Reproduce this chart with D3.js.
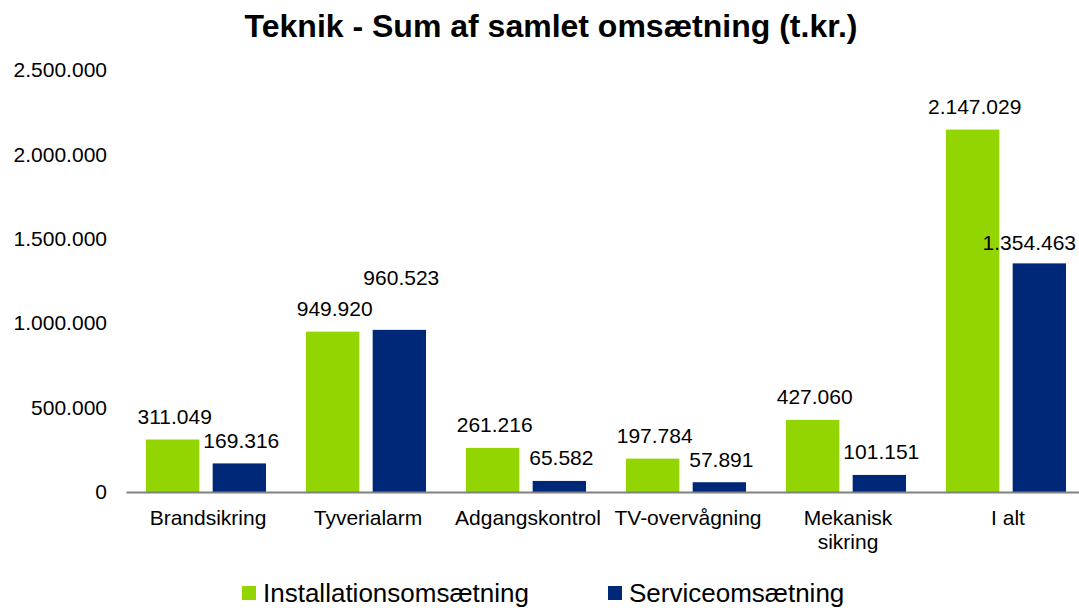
<!DOCTYPE html>
<html>
<head>
<meta charset="utf-8">
<script src="https://cdn.jsdelivr.net/npm/d3@7"></script>
<style>
  html, body { margin: 0; padding: 0; background: #fff; }
  svg { display: block; font-family: "Liberation Sans", Arial, sans-serif; }
</style>
</head>
<body>
<svg id="chart" width="1079" height="608"></svg>
<script>
// ---- Data ----
const title = "Teknik - Sum af samlet omsætning (t.kr.)";
const categories = ["Brandsikring", "Tyverialarm", "Adgangskontrol", "TV-overvågning", "Mekanisk sikring", "I alt"];
const seriesNames = ["Installationsomsætning", "Serviceomsætning"];
const installation = [311049, 949920, 261216, 197784, 427060, 2147029];
const service = [169316, 960523, 65582, 57891, 101151, 1354463];
const yTicks = [0, 500000, 1000000, 1500000, 2000000, 2500000];

// ---- Styles ----
const colors = ["#93D500", "#002878"];

(function () {
const svg = d3.select("#chart");
const plotLeft = 126, plotRight = 1086, plotTop = 70, plotBottom = 492;

const locale = d3.formatLocale({ decimal: ",", thousands: ".", grouping: [3], currency: ["", " kr"] });
const fmt = locale.format(",");

const x = d3.scaleBand().domain(categories).range([plotLeft, plotRight]).paddingInner(0.25).paddingOuter(0.125);
const xs = d3.scaleBand().domain(seriesNames).range([0, x.bandwidth()]).paddingInner(0.2);
const y = d3.scaleLinear().domain([0, 2500000]).range([plotBottom, plotTop]);

// Title
svg.append("text")
  .attr("x", 551).attr("y", 37)
  .attr("text-anchor", "middle")
  .style("font-size", "32px").style("font-weight", "bold").attr("fill", "#000")
  .text(title);

// Y axis (labels only)
const yAxis = d3.axisLeft(y).tickValues(yTicks).tickFormat(fmt).tickSize(0).tickPadding(19);
const gy = svg.append("g").attr("transform", `translate(${plotLeft},0)`).call(yAxis);
gy.select(".domain").remove();
gy.selectAll("text").style("font-size", "21px").attr("fill", "#000")
  .style("font-family", '"Liberation Sans", Arial, sans-serif');

// Bars
const rows = categories.map((c, i) => ({ cat: c, vals: [installation[i], service[i]] }));
const groups = svg.append("g").selectAll("g").data(rows).join("g")
  .attr("transform", d => `translate(${x(d.cat)},0)`);
groups.selectAll("rect")
  .data(d => d.vals.map((v, j) => ({ cat: d.cat, s: seriesNames[j], v: v, j: j })))
  .join("rect")
  .attr("x", d => xs(d.s))
  .attr("y", d => y(d.v))
  .attr("width", xs.bandwidth())
  .attr("height", d => y(0) - y(d.v))
  .attr("fill", d => colors[d.j]);

// Value labels (with small manual nudges as in the original)
const nudge = {
  "Tyverialarm|Serviceomsætning": [0, -29],
  "I alt|Serviceomsætning": [-12, 2]
};
groups.selectAll("text.val")
  .data(d => d.vals.map((v, j) => ({ cat: d.cat, s: seriesNames[j], v: v, j: j })))
  .join("text")
  .attr("class", "val")
  .attr("x", d => xs(d.s) + xs.bandwidth() / 2 + 2 + ((nudge[d.cat + "|" + d.s] || [0, 0])[0]))
  .attr("y", d => y(d.v) - 15.5 + ((nudge[d.cat + "|" + d.s] || [0, 0])[1]))
  .attr("text-anchor", "middle")
  .style("font-size", "21px").attr("fill", "#000")
  .text(d => fmt(d.v));

// X axis
const xAxis = d3.axisBottom(x).tickSize(0).tickFormat("");
const gx = svg.append("g").attr("transform", `translate(0,${plotBottom})`).call(xAxis);
gx.select(".domain").attr("stroke", "#808080").attr("stroke-width", 2);

const catLabels = svg.append("g").selectAll("text").data(categories).join("text")
  .attr("x", d => x(d) + x.bandwidth() / 2 + 2)
  .attr("y", 525)
  .attr("text-anchor", "middle")
  .style("font-size", "21px").attr("fill", "#000");
catLabels.each(function (d) {
  const t = d3.select(this);
  const lines = d === "Mekanisk sikring" ? ["Mekanisk", "sikring"] : [d];
  lines.forEach((ln, k) => {
    t.append("tspan").attr("x", x(d) + x.bandwidth() / 2 + 2).attr("dy", k === 0 ? 0 : 24).text(ln);
  });
});

// Legend
const legendX = [242, 608];
const lg = svg.append("g").selectAll("g").data(seriesNames).join("g")
  .attr("transform", (d, i) => `translate(${legendX[i]},0)`);
lg.append("rect").attr("x", 0).attr("y", 586).attr("width", 14).attr("height", 14)
  .attr("fill", (d, i) => colors[i]);
lg.append("text").attr("x", 21).attr("y", 601.5)
  .style("font-size", "26px").attr("fill", "#000")
  .text(d => d);
})();
</script>
</body>
</html>
